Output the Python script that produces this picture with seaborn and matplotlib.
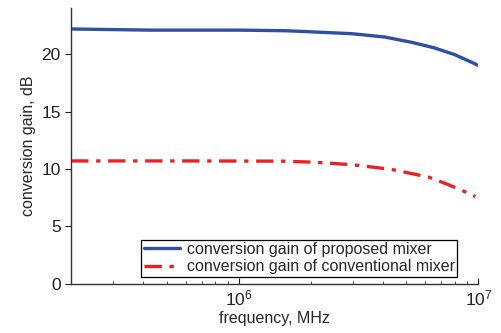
import matplotlib
matplotlib.use("Agg")
import matplotlib.pyplot as plt
import seaborn as sns
import pandas as pd
import numpy as np

# frequency points (MHz) and conversion gain (dB)
freq_proposed = [2.0e5, 4.3e5, 1.0e6, 1.55e6, 1.83e6, 2.96e6, 4.06e6, 5.26e6, 6.56e6, 7.94e6, 9.62e6, 9.9e6]
gain_proposed = [22.2, 22.1, 22.1, 22.05, 21.99, 21.79, 21.5, 21.04, 20.55, 19.97, 19.19, 19.05]

freq_conventional = [2.0e5, 6.0e5, 1.0e6, 1.51e6, 2.07e6, 3.02e6, 4.34e6, 6.2e6, 7.5e6, 9.35e6, 9.7e6]
gain_conventional = [10.7, 10.7, 10.69, 10.68, 10.59, 10.36, 9.96, 9.29, 8.63, 7.77, 7.6]

label_proposed = "conversion gain of proposed mixer"
label_conventional = "conversion gain of conventional mixer"

df = pd.concat([
    pd.DataFrame({"freq": freq_proposed, "gain": gain_proposed, "series": label_proposed}),
    pd.DataFrame({"freq": freq_conventional, "gain": gain_conventional, "series": label_conventional}),
])

sns.set_style("ticks")
plt.rcParams['font.family'] = ['Liberation Sans', 'DejaVu Sans']

fig, ax = plt.subplots(figsize=(5.01, 3.33), dpi=100)
sns.lineplot(data=df, x="freq", y="gain", hue="series", style="series",
             palette={label_proposed: "#2f4fa2", label_conventional: "#ea2228"},
             dashes={label_proposed: "", label_conventional: (5.2, 2.3, 1.3, 2.3)},
             linewidth=2.4, ax=ax)

ax.set_xscale("log")
ax.set_xlim(2.0e5, 1.0e7)
ax.set_ylim(0, 24)
ax.set_yticks([0, 5, 10, 15, 20])
ax.set_xlabel("frequency, MHz", fontsize=11.5, labelpad=2)
ax.set_ylabel("conversion gain, dB", fontsize=11.5, labelpad=4)
ax.tick_params(axis="both", labelsize=12.5, colors="#222222")
ax.tick_params(axis="x", which="both", direction="in")
ax.tick_params(axis="x", which="major", length=4)
ax.tick_params(axis="x", which="minor", length=2.5)
ax.tick_params(axis="y", length=4)
sns.despine(ax=ax)
for s in ["left", "bottom"]:
    ax.spines[s].set_linewidth(1.0)
    ax.spines[s].set_color("#333333")

leg = ax.legend(loc="lower right", bbox_to_anchor=(0.948, 0.025), fontsize=11.5,
                frameon=True, fancybox=False, edgecolor="black", framealpha=1,
                handlelength=2.3, borderpad=0.15, labelspacing=0.15, handletextpad=0.4,
                borderaxespad=0.0)
leg.get_frame().set_linewidth(0.9)
leg.set_title(None)

fig.subplots_adjust(left=0.142, right=0.955, top=0.975, bottom=0.148)
fig.savefig("out.png", dpi=100)
